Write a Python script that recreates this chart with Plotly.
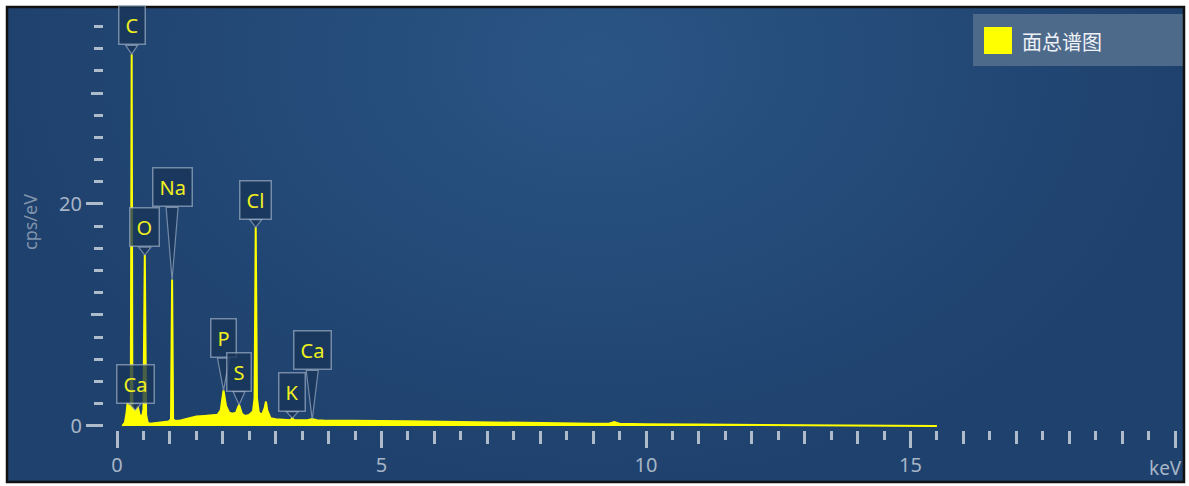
import plotly.graph_objects as go

# ---------------- data ----------------
energy_kev = [0.10, 0.15, 0.18, 0.20, 0.22, 0.24, 0.26, 0.277, 0.29, 0.31, 0.33, 0.341,
              0.36, 0.39, 0.42, 0.45, 0.48, 0.50, 0.525, 0.55, 0.58, 0.62, 0.70, 0.80,
              0.90, 0.98, 1.02, 1.041, 1.06, 1.10, 1.20, 1.35, 1.50, 1.65, 1.80, 1.90,
              1.96, 2.013, 2.06, 2.12, 2.18, 2.25, 2.307, 2.36, 2.42, 2.50, 2.57, 2.60,
              2.622, 2.645, 2.68, 2.74, 2.79, 2.815, 2.84, 2.90, 3.00, 3.10, 3.20, 3.28,
              3.313, 3.35, 3.45, 3.60, 3.69, 3.78, 3.90, 4.0, 4.5, 5.0, 5.5, 6.0, 6.5,
              7.0, 7.5, 8.0, 8.5, 9.0, 9.3, 9.4, 9.5, 9.7, 10.0, 11.0, 12.0, 13.0, 14.0,
              14.8, 15.5]
counts_cps = [0.0, 0.3, 1.2, 2.1, 1.0, 1.8, 2.0, 33.5, 1.8, 1.6, 1.2, 1.5,
              1.0, 1.8, 1.1, 0.8, 1.0, 1.5, 15.4, 1.0, 0.3, 0.2, 0.25, 0.3,
              0.35, 0.4, 0.6, 13.2, 0.6, 0.45, 0.5, 0.7, 0.85, 0.9, 0.95, 1.0,
              1.4, 3.2, 1.8, 1.2, 1.1, 1.2, 1.9, 1.1, 0.9, 1.0, 1.3, 2.5,
              17.9, 2.5, 1.2, 1.0, 1.6, 2.2, 1.4, 0.7, 0.6, 0.55, 0.52, 0.52,
              0.7, 0.52, 0.52, 0.52, 0.62, 0.52, 0.5, 0.5, 0.48, 0.45, 0.42, 0.38, 0.35,
              0.32, 0.30, 0.27, 0.24, 0.20, 0.20, 0.35, 0.20, 0.18, 0.16, 0.12, 0.10, 0.08, 0.06,
              0.04, 0.0]

label_elements = ["C", "O", "Na", "Cl", "P", "S", "Ca", "K", "Ca"]
label_energy = [0.277, 0.525, 1.041, 2.622, 2.013, 2.307, 0.341, 3.313, 3.690]
label_tip = [33.5, 15.4, 13.2, 17.9, 3.2, 1.9, 1.4, 0.7, 0.55]
label_box_bottom = [34.3, 16.1, 19.7, 18.6, 6.1, 3.1, 2.0, 1.3, 5.0]

x_major_ticks = [0, 5, 10, 15, 20]
x_major_text = ["0", "5", "10", "15", ""]
x_mid_ticks = [1, 2, 3, 4, 6, 7, 8, 9, 11, 12, 13, 14, 16, 17, 18, 19]
x_minor_ticks = [0.5, 1.5, 2.5, 3.5, 4.5, 5.5, 6.5, 7.5, 8.5, 9.5, 10.5, 11.5, 12.5,
                 13.5, 14.5, 15.5, 16.5, 17.5, 18.5, 19.5]
y_major_ticks = [0, 20]
y_major_text = ["0", "20"]
y_mid_ticks = [10, 30]
y_minor_ticks = [2, 4, 6, 8, 12, 14, 16, 18, 22, 24, 26, 28, 32, 34, 36]

legend_name = "面总谱图"
x_unit = "keV"
y_title = "cps/eV"

# ---------------- style ----------------
X_RANGE = [-2.08, 20.17]
Y_RANGE = [-5.05, 37.75]
W, H = 1189, 486
ML, MR, MT, MB = 7, 5, 7, 4
PW, PH = W - ML - MR, H - MT - MB

def px_x(p):
    return (p - ML) / PW

def px_y(p):
    return (H - MB - p) / PH

TICK_COL = "#aebbcb"
LABEL_COL = "#a7b5c6"
YELLOW = "#ffff00"
FONT = "Noto Sans, Open Sans, sans-serif"
BOX_BG = "rgba(24,52,88,0.78)"
BOX_LINE = "rgba(175,190,210,0.6)"

fig = go.Figure()

# background glow (decoration)
glow_top = 71
fig.add_trace(go.Scatter(
    x=[X_RANGE[0], X_RANGE[1], X_RANGE[1], X_RANGE[0]],
    y=[Y_RANGE[0], Y_RANGE[0], glow_top, glow_top],
    fill="toself", mode="none", hoverinfo="skip", showlegend=False,
    fillgradient=dict(type="radial", colorscale=[[0, "#2a5585"], [1, "#1f416d"]]),
))

# spectrum
fig.add_trace(go.Scatter(
    x=energy_kev, y=counts_cps, mode="lines", name=legend_name,
    line=dict(color=YELLOW, width=2), fill="tozeroy", fillcolor=YELLOW,
    showlegend=False, hoverinfo="x+y",
))

# empty trace for overlay axes (mid-length ticks)
fig.add_trace(go.Scatter(x=[], y=[], xaxis="x2", yaxis="y2", showlegend=False))

axis_pos_x = px_y(430)
axis_pos_y = px_x(103)

fig.update_layout(
    width=W, height=H,
    margin=dict(l=ML, r=MR, t=MT, b=MB),
    paper_bgcolor="white",
    plot_bgcolor="#23487a",
    showlegend=False,
    font=dict(family=FONT, color=LABEL_COL),
    xaxis=dict(
        domain=[0, 1], range=X_RANGE, anchor="free", position=axis_pos_x,
        showgrid=False, zeroline=False, showline=False,
        tickmode="array", tickvals=x_major_ticks, ticktext=x_major_text,
        ticks="outside", ticklen=17, tickwidth=3, tickcolor=TICK_COL,
        tickfont=dict(size=20, color=LABEL_COL, family=FONT),
        minor=dict(tickmode="array", tickvals=x_minor_ticks, ticks="outside",
                   ticklen=9, tickwidth=3, tickcolor=TICK_COL, showgrid=False),
    ),
    xaxis2=dict(
        overlaying="x", domain=[0, 1], range=X_RANGE, anchor="free", position=axis_pos_x,
        showgrid=False, zeroline=False, showline=False, showticklabels=False,
        tickmode="array", tickvals=x_mid_ticks,
        ticks="outside", ticklen=13, tickwidth=3, tickcolor=TICK_COL,
    ),
    yaxis=dict(
        domain=[0, 1], range=Y_RANGE, anchor="free", position=axis_pos_y,
        showgrid=False, zeroline=False, showline=False,
        tickmode="array", tickvals=y_major_ticks, ticktext=y_major_text,
        ticks="outside", ticklen=17, tickwidth=3, tickcolor=TICK_COL,
        tickfont=dict(size=20, color=LABEL_COL, family=FONT),
        minor=dict(tickmode="array", tickvals=y_minor_ticks, ticks="outside",
                   ticklen=9, tickwidth=3, tickcolor=TICK_COL, showgrid=False),
    ),
    yaxis2=dict(
        overlaying="y", domain=[0, 1], range=Y_RANGE, anchor="free", position=axis_pos_y,
        showgrid=False, zeroline=False, showline=False, showticklabels=False,
        tickmode="array", tickvals=y_mid_ticks,
        ticks="outside", ticklen=12, tickwidth=3, tickcolor=TICK_COL,
    ),
)

# callout pointers and labels
half_base = 6 / (PW / (X_RANGE[1] - X_RANGE[0]))
for el, e, tip, yb in zip(label_elements, label_energy, label_tip, label_box_bottom):
    fig.add_shape(
        type="path", xref="x", yref="y", layer="above",
        path=f"M {e - half_base},{yb} L {e + half_base},{yb} L {e},{tip} Z",
        fillcolor=BOX_BG, line=dict(color=BOX_LINE, width=1.2),
    )
    fig.add_annotation(
        x=e, y=yb, xref="x", yref="y", xanchor="center", yanchor="bottom",
        text=el, showarrow=False, font=dict(size=20, color="#f0f020", family=FONT),
        bgcolor=BOX_BG, bordercolor=BOX_LINE, borderwidth=1.5, borderpad=6,
        height=25,
    )

# unit label at the end of the x axis
fig.add_annotation(x=1.0, y=px_y(468), xref="paper", yref="paper", xanchor="right",
                   yanchor="middle", text=x_unit, showarrow=False,
                   font=dict(size=19, color=LABEL_COL, family=FONT))
# y axis title
fig.add_annotation(x=px_x(30), y=px_y(222), xref="paper", yref="paper", xanchor="center",
                   yanchor="middle", text=y_title, textangle=-90, showarrow=False,
                   font=dict(size=18, color="#7f93ab", family=FONT))

# legend (drawn box)
fig.add_shape(type="rect", xref="paper", yref="paper",
              x0=px_x(973), x1=px_x(1184), y0=px_y(66), y1=px_y(14),
              fillcolor="#4e6a8b", line=dict(width=0), layer="above")
fig.add_shape(type="rect", xref="paper", yref="paper",
              x0=px_x(984), x1=px_x(1012), y0=px_y(54), y1=px_y(27),
              fillcolor=YELLOW, line=dict(width=0), layer="above")
fig.add_annotation(x=px_x(1020), y=px_y(41), xref="paper", yref="paper", xanchor="left",
                   yanchor="middle", text=legend_name, showarrow=False,
                   font=dict(size=20, color="#eef2f7",
                             family="Noto Sans CJK SC, Noto Sans, sans-serif"))

# panel frame
fig.add_shape(type="rect", xref="paper", yref="paper", x0=0, x1=1, y0=0, y1=1,
              line=dict(color="#111111", width=2.5), layer="above")

fig.write_html("out.html", config={"displayModeBar": False},
               post_script="document.body.style.margin='0';")
